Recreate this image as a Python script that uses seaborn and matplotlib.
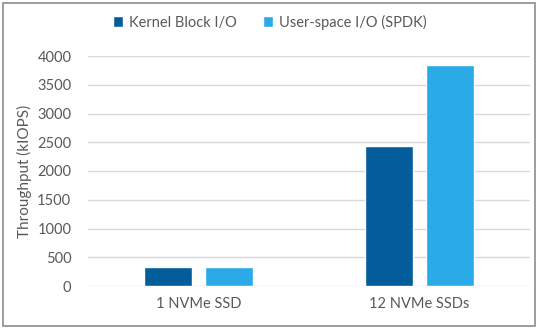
import matplotlib
matplotlib.use("Agg")
import matplotlib.pyplot as plt
import seaborn as sns
import pandas as pd
from matplotlib.patches import Rectangle

categories = ["1 NVMe SSD", "12 NVMe SSDs"]
series = ["Kernel Block I/O", "User-space I/O (SPDK)"]
kernel = [330, 2440]
spdk = [330, 3840]
yticks = [0, 500, 1000, 1500, 2000, 2500, 3000, 3500, 4000]

df = pd.DataFrame({
    "cat": categories * 2,
    "series": [series[0]] * 2 + [series[1]] * 2,
    "val": kernel + spdk,
})

sns.set_theme(style="white")
plt.rcParams['font.family'] = ['Lato', 'DejaVu Sans']
txt = "#595959"

fig = plt.figure(figsize=(5.4, 3.31), dpi=100)
ax = fig.add_axes([88/540, 1 - 286/331, 442/540, 230/331])
palette = {series[0]: "#045d9b", series[1]: "#2aabe8"}
sns.barplot(data=df, x="cat", y="val", hue="series", palette=palette,
            width=0.55, gap=0.2, ax=ax, saturation=1, legend=True)
ax.set_ylim(0, 4000)
ax.set_yticks(yticks)
ax.set_yticklabels([str(t) for t in yticks], color=txt, fontsize=10.5)
ax.tick_params(axis='x', colors=txt, labelsize=10.5, length=0, pad=8)
ax.tick_params(axis='y', length=0, pad=12)
ax.yaxis.grid(True, color="#d9d9d9", linewidth=1)
ax.set_axisbelow(True)
for s in ax.spines.values():
    s.set_visible(False)
ax.set_xlabel("")
ax.set_ylabel("Throughput (kIOPS)", color=txt, fontsize=11, labelpad=4)
ax.set_xlim(-0.5, 1.5)

h, l = ax.get_legend_handles_labels()
ax.legend_.remove()
fig.legend(h, l, loc="center", bbox_to_anchor=(270/540, 1 - 22/331), ncol=2,
           frameon=False, fontsize=10.5, handlelength=0.7, handleheight=0.7,
           columnspacing=1.8, handletextpad=0.4, labelcolor=txt)

fig.patches.append(Rectangle((3/540, 1 - 326/331), 532/540, 323/331,
                             transform=fig.transFigure, fill=False,
                             edgecolor="#8c8c8c", linewidth=1.2))
fig.savefig("out.png", dpi=100, facecolor="white")
